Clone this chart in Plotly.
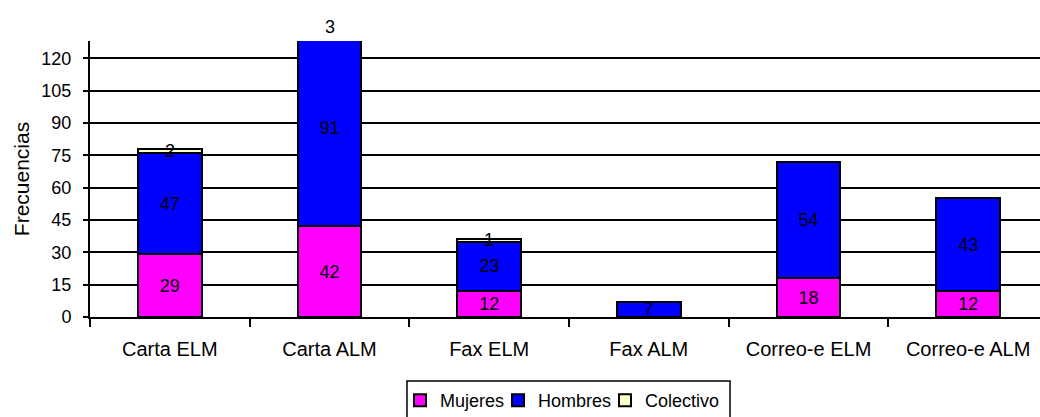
import plotly.graph_objects as go

# Frecuencias por canal y tipo de remitente
categorias = ["Carta ELM", "Carta ALM", "Fax ELM", "Fax ALM", "Correo-e ELM", "Correo-e ALM"]
mujeres = [29, 42, 12, 0, 18, 12]
hombres = [47, 91, 23, 7, 54, 43]
colectivo = [2, 3, 1, 0, 0, 0]
y_ticks = [0, 15, 30, 45, 60, 75, 90, 105, 120]

Y_MAX = 128
W, H = 1040, 417
M_L, M_R, M_T, M_B = 90, 0, 41, 100
FAMILY = "Liberation Sans, Arial, sans-serif"
NUM_FONT = dict(family=FAMILY, size=18, color="black")
WORD_FONT = dict(family=FAMILY, size=20, color="black")


def etiquetas(valores):
    return [str(v) if v else "" for v in valores]


series = [
    ("Mujeres", mujeres, "#FF00FF", "legend", 400),
    ("Hombres", hombres, "#0000FF", "legend2", 498),
    ("Colectivo", colectivo, "#FFFFCC", "legend3", 605),
]

fig = go.Figure()
for nombre, valores, color, leyenda, _ in series:
    fig.add_trace(go.Bar(
        name=nombre,
        x=categorias,
        y=valores,
        legend=leyenda,
        marker=dict(color=color, line=dict(color="black", width=2)),
        text=etiquetas(valores) if nombre != "Colectivo" else None,
        textposition="inside" if nombre != "Colectivo" else "none",
        insidetextanchor="middle",
        textangle=0,
        textfont=NUM_FONT,
    ))

# Colectivo labels sit centred on their thin segment (one of them lies above the axis range)
for i, cat in enumerate(categorias):
    v = colectivo[i]
    if not v:
        continue
    centro = mujeres[i] + hombres[i] + v / 2
    fig.add_annotation(
        x=cat, xref="x", y=centro / Y_MAX, yref="paper",
        text=str(v), showarrow=False, font=NUM_FONT,
        xanchor="center", yanchor="middle",
    )

# one legend per series, laid out in a single row below the axis
legend_common = dict(
    orientation="h",
    xref="container", xanchor="left",
    y=0.084, yref="container", yanchor="top",
    borderwidth=0, bgcolor="rgba(0,0,0,0)",
    font=dict(family=FAMILY, size=18, color="black"),
)
legend_layout = {}
for _, _, _, leyenda, left_px in series:
    legend_layout[leyenda] = dict(legend_common, x=left_px / W)

# frame around the legend row
plot_w = W - M_L - M_R
plot_h = H - M_T - M_B
def px_to_paper_x(px):
    return (px - M_L) / plot_w
def px_to_paper_y(py):
    return (H - M_B - py) / plot_h

fig.add_shape(
    type="rect", xref="paper", yref="paper",
    x0=px_to_paper_x(407), x1=px_to_paper_x(730),
    y0=px_to_paper_y(381), y1=px_to_paper_y(425),
    line=dict(color="black", width=1.5), fillcolor="rgba(0,0,0,0)",
)

fig.update_layout(
    barmode="stack",
    bargap=0.6,
    width=W,
    height=H,
    margin=dict(l=M_L, r=M_R, t=M_T, b=M_B, autoexpand=False),
    paper_bgcolor="white",
    plot_bgcolor="white",
    uniformtext=dict(minsize=18, mode="show"),
    showlegend=True,
    font=NUM_FONT,
    **legend_layout,
)

fig.update_xaxes(
    range=[-0.5, 5.45],
    showline=True, linecolor="black", linewidth=2,
    ticks="outside", tickson="boundaries", ticklen=8, tickwidth=2, tickcolor="black",
    tickfont=WORD_FONT,
    ticklabelstandoff=13,
    showgrid=False,
)
fig.update_yaxes(
    range=[0, Y_MAX],
    tickvals=y_ticks,
    showline=True, linecolor="black", linewidth=2,
    ticks="outside", ticklen=5, tickwidth=2, tickcolor="black",
    tickfont=NUM_FONT,
    ticklabelstandoff=8,
    showgrid=True, gridcolor="black", gridwidth=2,
    zeroline=False,
    title=dict(text="Frecuencias", font=dict(family=FAMILY, size=21, color="black"), standoff=6),
)

fig.write_html("out.html")
